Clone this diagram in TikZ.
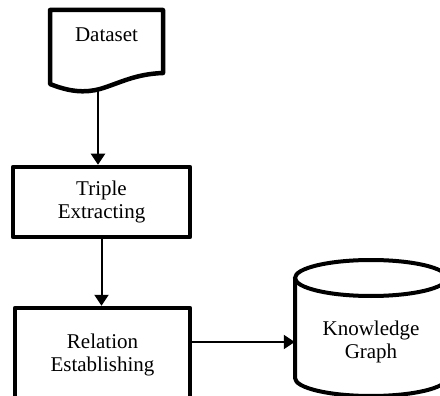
\documentclass[tikz,border=0pt]{standalone}
\usepackage{fontspec}
\setmainfont{Liberation Serif}
\usetikzlibrary{arrows.meta}
\begin{document}
\begin{tikzpicture}[x=1pt,y=-1pt,
  boxline/.style={line width=4.5pt,line join=round},
  procbox/.style={boxline,draw,rectangle,align=center,inner sep=0pt},
  lbl/.style={align=center,inner sep=0pt},
  arr/.style={line width=2pt,-{Triangle[length=11pt,width=14pt]}},
  every node/.style={font=\fontsize{21}{23}\selectfont}]
\clip (0,0) rectangle (440,396);

% document shape: Dataset
\draw[boxline,fill=white] (50,10) -- (163,10) -- (163,73)
  .. controls (135,74) and (120,83) .. (100,89)
  .. controls (85,93) and (70,92) .. (50,84) -- cycle;
\node[lbl] (ds) at (106.5,35) {Dataset};
\coordinate (dsb) at (98,90);

% process boxes
\node[procbox,minimum width=177pt,minimum height=70pt] (tri) at (101.5,202)
  {Triple\\Extracting};
\node[procbox,minimum width=175pt,minimum height=94pt] (rel) at (102.5,355)
  {Relation\\Establishing};

% storage cylinder: Knowledge Graph
\draw[line width=4pt,line join=round] (295,278) -- (295,378)
  arc[start angle=180,end angle=0,x radius=76,y radius=18]
  -- (447,278);
\draw[line width=4pt] (371,278) ellipse[x radius=76,y radius=18];
\node[lbl,minimum width=152pt] (kg) at (371,342) {Knowledge\\Graph};

% connectors
\draw[arr] (dsb) -- (dsb |- tri.north);
\draw[arr] (tri.south) -- (tri.south |- rel.north);
\draw[arr] (rel.east |- kg.west) -- (kg.west);
\end{tikzpicture}
\end{document}
